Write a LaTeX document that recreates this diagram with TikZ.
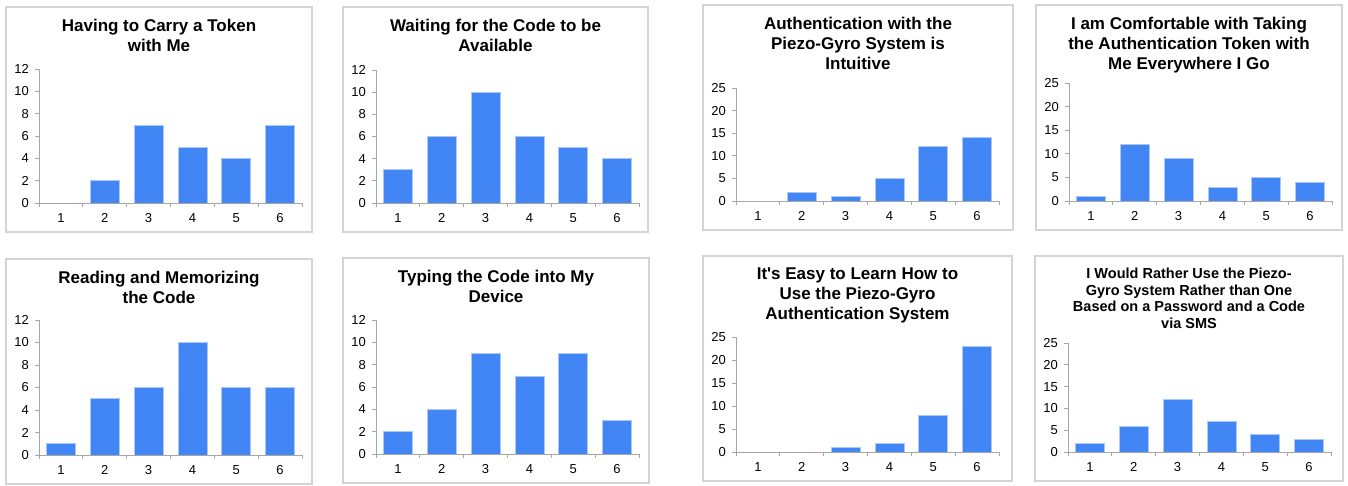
\documentclass[tikz,border=0pt]{standalone}
\usepackage{fontspec}
\setmainfont{Liberation Sans}
\usepackage{xcolor}
\definecolor{barBlue}{HTML}{4285F4}
\definecolor{frameGray}{HTML}{D4D4D4}
\definecolor{axisGray}{HTML}{A6A6A6}
\newcommand{\bigtitle}{\bfseries\fontsize{17}{20}\selectfont}
\newcommand{\smalltitle}{\bfseries\fontsize{14.5}{16.5}\selectfont}
% #1 name, #2 corner, #3 width, #4 plot height, #5 y max, #6 y step, #7 font, #8 title, #9 values
\newcommand{\surveychart}[9]{%
  \begin{scope}[shift={#2}]
    \draw[chartframe] (0,0) rectangle (#3,225);
    \node[heading,font=#7] (#1-title) at (#3/2,12) {#8};
    \pgfmathsetmacro{\pxunit}{#4/#5}
    \foreach \val [count=\i] in {#9} {
      \ifdim\val pt>0pt
        \draw[barfill] (33+\i*43.83-43.83+7.4,196) rectangle ++(29,-\val*\pxunit);
      \fi
      \node[ticklabel] (#1-x\i) at (33+\i*43.83-21.92,211) {\i};
    }
    \foreach \yv in {0,#6,...,#5} {
      \draw[axisline] (33,196-\yv*\pxunit) -- ++(-4,0);
      \node[ticklabel,anchor=east] (#1-y\yv) at (23,196-\yv*\pxunit) {\yv};
    }
    \foreach \k in {0,...,6}
      \draw[axisline] (33+\k*43.83,196) -- ++(0,4);
    \draw[axisline] (33,196-#4) -- (33,196) -- (296,196);
  \end{scope}}

\begin{document}
\begin{tikzpicture}[x=1pt,y=-1pt]
  \tikzstyle{chartframe}=[draw=frameGray,line width=1.5pt]
  \tikzstyle{heading}=[align=center,anchor=north,inner sep=0pt]
  \tikzstyle{barfill}=[fill=barBlue,draw=barBlue!45!white,line width=0.6pt]
  \tikzstyle{axisline}=[draw=axisGray,line width=0.8pt]
  \tikzstyle{ticklabel}=[font=\fontsize{13}{15}\selectfont,inner sep=0pt]
  \useasboundingbox (0,0) rectangle (1348,485);
  % top row
  \surveychart{carry}{(6,7)}{306}{134}{12}{2}{\bigtitle}
    {Having to Carry a Token\\with Me}{0,2,7,5,4,7}
  \surveychart{wait}{(343,7)}{305}{133}{12}{2}{\bigtitle}
    {Waiting for the Code to be\\Available}{3,6,10,6,5,4}
  \surveychart{intuit}{(703,5)}{310}{113}{25}{5}{\bigtitle}
    {Authentication with the\\Piezo-Gyro System is\\Intuitive}{0,2,1,5,12,14}
  \surveychart{comfort}{(1036,5)}{306}{118}{25}{5}{\bigtitle}
    {I am Comfortable with Taking\\the Authentication Token with\\Me Everywhere I Go}{1,12,9,3,5,4}
  % bottom row
  \surveychart{read}{(6,259)}{306}{135}{12}{2}{\bigtitle}
    {Reading and Memorizing\\the Code}{1,5,6,10,6,6}
  \surveychart{type}{(343,258)}{306}{134}{12}{2}{\bigtitle}
    {Typing the Code into My\\Device}{2,4,9,7,9,3}
  \surveychart{learn}{(703,256)}{309}{115}{25}{5}{\bigtitle}
    {It\textquotesingle s Easy to Learn How to\\Use the Piezo-Gyro\\Authentication System}{0,0,1,2,8,23}
  \surveychart{rather}{(1035,256)}{308}{109}{25}{5}{\smalltitle}
    {I Would Rather Use the Piezo-\\Gyro System Rather than One\\Based on a Password and a Code\\via SMS}{2,6,12,7,4,3}
\end{tikzpicture}
\end{document}
